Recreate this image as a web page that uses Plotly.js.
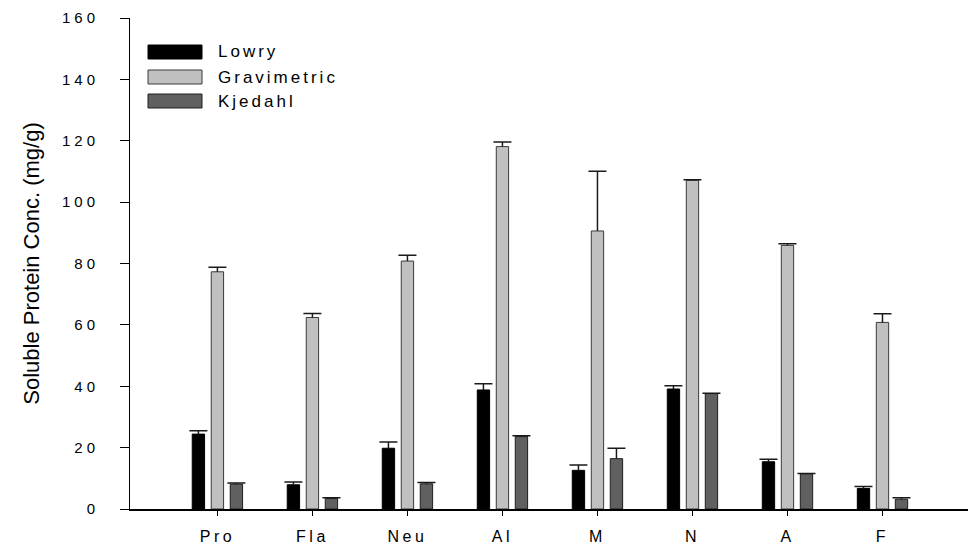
<!DOCTYPE html>
<html>
<head>
<meta charset="utf-8">
<script src="https://cdn.plot.ly/plotly-3.0.1.min.js"></script>
<style>
  html, body { margin: 0; padding: 0; background: #ffffff; }
  #chart { width: 969px; height: 547px; }
  /* widely tracked lettering on ticks and legend labels */
  #chart .xtick text { letter-spacing: 3.5px; }
  #chart .ytick text { letter-spacing: 4px; }
  #chart .annotation-text { letter-spacing: 3px; }
</style>
</head>
<body>
<div id="chart"></div>
<script>
// Soluble protein concentration (mg/g) by sample and assay method
const samples = ['Pro', 'Fla', 'Neu', 'Al', 'M', 'N', 'A', 'F'];
const seriesNames = ['Lowry', 'Gravimetric', 'Kjedahl'];

const lowry          = [24.4,  7.9, 19.8,  38.8, 12.6,  39.1, 15.4,  6.7];
const lowryErr       = [ 1.1,  0.9,  2.0,   2.0,  1.7,   1.1,  0.8,  0.6];
const gravimetric    = [77.3, 62.4, 80.8, 118.1, 90.6, 107.1, 85.9, 60.8];
const gravimetricErr = [ 1.5,  1.3,  1.9,   1.5, 19.5,   0.2,  0.5,  2.8];
const kjedahl        = [ 8.1,  3.4,  8.2,  23.6, 16.4,  37.6, 11.5,  3.2];
const kjedahlErr     = [ 0.4,  0.3,  0.4,   0.3,  3.4,   0.1,  0.1,  0.5];

const yTicks = [0, 20, 40, 60, 80, 100, 120, 140, 160];

const series = [
  { name: seriesNames[0], y: lowry,       err: lowryErr,       fill: '#000000', edge: '#000000' },
  { name: seriesNames[1], y: gravimetric, err: gravimetricErr, fill: '#c0c0c0', edge: '#3a3a3a' },
  { name: seriesNames[2], y: kjedahl,     err: kjedahlErr,     fill: '#606060', edge: '#1e1e1e' }
];

const FONT = 'Liberation Sans, Arial, sans-serif';
const ERR_COLOR = '#1a1a1a';

const traces = [];
series.forEach((s, i) => {
  const grp = 'g' + i;
  // the bar itself, with an upward whisker (no end caps)
  traces.push({
    type: 'bar', x: samples, y: s.y, name: s.name, offsetgroup: grp,
    marker: { color: s.fill, line: { color: s.edge, width: 1 } },
    error_y: { type: 'data', symmetric: false, array: s.err, arrayminus: s.err.map(() => 0),
               width: 0, thickness: 1.5, color: ERR_COLOR },
    hoverinfo: 'x+y+name'
  });
  // cap at the top of each whisker only
  traces.push({
    type: 'bar', x: samples, y: s.y.map((v, k) => v + s.err[k]), offsetgroup: grp,
    marker: { color: 'rgba(0,0,0,0)', line: { width: 0 } },
    error_y: { type: 'data', symmetric: true, array: s.err.map(() => 0),
               width: 9, thickness: 1.5, color: ERR_COLOR },
    hoverinfo: 'skip', showlegend: false
  });
});

// legend box drawn in pixel space, converted to paper fractions
const M = { l: 130, r: 1, t: 18, b: 38 };
const W = 969, H = 547;
const pw = W - M.l - M.r, ph = H - M.t - M.b;
const px = v => (v - M.l) / pw;
const py = v => (H - M.b - v) / ph;

const legendRows = [45, 70, 94];
const shapes = [], annotations = [];
series.forEach((s, i) => {
  const top = legendRows[i];
  shapes.push({
    type: 'rect', xref: 'paper', yref: 'paper',
    x0: px(148), x1: px(202), y0: py(top + 14), y1: py(top),
    fillcolor: s.fill, line: { color: s.edge, width: 1 }
  });
  annotations.push({
    xref: 'paper', yref: 'paper', x: px(216), y: py(top + 7),
    xanchor: 'left', yanchor: 'middle', align: 'left', showarrow: false,
    text: s.name, font: { family: FONT, size: 17, color: '#000' }
  });
});

const layout = {
  width: W, height: H,
  margin: M,
  paper_bgcolor: '#ffffff', plot_bgcolor: '#ffffff',
  font: { family: FONT, color: '#000' },
  showlegend: false,
  barmode: 'group', bargap: 0.4, bargroupgap: 0.35,
  xaxis: {
    type: 'category', range: [-0.92, 7.9], autorange: false,
    showline: true, linecolor: '#000', linewidth: 1.5,
    ticks: 'outside', ticklen: 5, tickwidth: 1, tickcolor: '#000',
    showgrid: false, zeroline: false,
    tickfont: { family: FONT, size: 16, color: '#000' },
    ticklabelstandoff: 7
  },
  yaxis: {
    range: [0, 160], autorange: false,
    tickmode: 'array', tickvals: yTicks, ticktext: yTicks.map(String),
    showline: true, linecolor: '#000', linewidth: 1,
    ticks: 'outside', ticklen: 9, tickwidth: 1, tickcolor: '#000',
    showgrid: false, zeroline: false,
    tickfont: { family: FONT, size: 15, color: '#000' },
    ticklabelstandoff: 18,
    title: { text: 'Soluble Protein Conc. (mg/g)', standoff: 28,
             font: { family: FONT, size: 22, color: '#000' } }
  },
  shapes: shapes,
  annotations: annotations
};

Plotly.newPlot('chart', traces, layout, { displayModeBar: false, staticPlot: true });
</script>
</body>
</html>
